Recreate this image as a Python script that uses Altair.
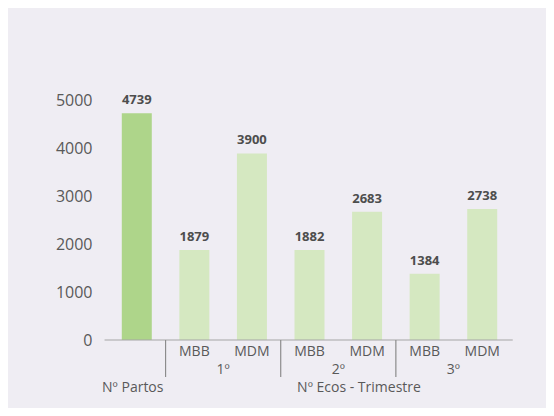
import altair as alt
import pandas as pd

categories = ["Nº Partos", "MBB", "MDM", "MBB", "MDM", "MBB", "MDM"]
values = [4739, 1879, 3900, 1882, 2683, 1384, 2738]
series = ["partos", "ecos", "ecos", "ecos", "ecos", "ecos", "ecos"]
groups = ["1º", "2º", "3º"]
group_pos = [2, 4, 6]
separators = [1, 3, 5]
outer_labels = ["Nº Partos", "Nº Ecos - Trimestre"]
outer_pos = [0.43, 4.36]

df = pd.DataFrame({
    "pos": [i + 0.5 for i in range(len(values))],
    "cat": categories,
    "val": values,
    "series": series,
})
df_sub = df[df["series"] == "ecos"]
df_groups = pd.DataFrame({"pos": group_pos, "label": groups})
df_sep = pd.DataFrame({"pos": separators})
df_outer = pd.DataFrame({"pos": outer_pos, "label": outer_labels})
df_base = pd.DataFrame({"x": [-0.06], "x2": [7.03], "y": [0]})

FONT = "Open Sans"
W, H = 413, 287

xscale = alt.Scale(domain=[0, 7], nice=False, zero=False)
yscale = alt.Scale(domain=[0, 6000], nice=False)

bars = alt.Chart(df).mark_bar(size=30).encode(
    x=alt.X("pos:Q", scale=xscale, axis=None),
    y=alt.Y("val:Q", scale=yscale,
            axis=alt.Axis(values=[0, 1000, 2000, 3000, 4000, 5000], title=None, format="d",
                          domain=False, ticks=False, grid=False,
                          labelFont=FONT, labelFontSize=16, labelColor="#595959",
                          labelPadding=11)),
    color=alt.Color("series:N", scale=alt.Scale(domain=["partos", "ecos"],
                                                 range=["#aed58a", "#d5e8c1"]), legend=None),
)

value_labels = alt.Chart(df).mark_text(font=FONT, fontSize=13, fontWeight="bold",
                                       color="#4d4d4d", baseline="alphabetic", dy=-9).encode(
    x=alt.X("pos:Q", scale=xscale),
    y=alt.Y("val:Q", scale=yscale),
    text="val:Q",
)

baseline = alt.Chart(df_base).mark_rule(color="#a6a6a6", strokeWidth=1.2).encode(
    x=alt.X("x:Q", scale=xscale), x2="x2:Q",
    y=alt.Y("y:Q", scale=yscale),
)

seps = alt.Chart(df_sep).mark_rule(color="#8c8c8c", strokeWidth=1.2).encode(
    x=alt.X("pos:Q", scale=xscale),
    y=alt.value(H), y2=alt.value(H + 37),
)

sub_labels = alt.Chart(df_sub).mark_text(font=FONT, fontSize=14, color="#595959",
                                         baseline="middle").encode(
    x=alt.X("pos:Q", scale=xscale), y=alt.value(H + 12), text="cat:N",
)

group_labels = alt.Chart(df_groups).mark_text(font=FONT, fontSize=14, color="#595959",
                                              baseline="middle").encode(
    x=alt.X("pos:Q", scale=xscale), y=alt.value(H + 30), text="label:N",
)

outer = alt.Chart(df_outer).mark_text(font=FONT, fontSize=14, color="#595959",
                                      baseline="middle").encode(
    x=alt.X("pos:Q", scale=xscale), y=alt.value(H + 48), text="label:N",
)

chart = alt.layer(bars, value_labels, baseline, seps, sub_labels, group_labels, outer).properties(
    width=W, height=H,
    autosize=alt.AutoSizeParams(type="none"),
    padding={"left": 95, "top": 45, "right": 30, "bottom": 68},
    background="#efedf3",
).configure_view(stroke=None)

chart.save("out.html", embed_options={"renderer": "svg", "actions": False})
